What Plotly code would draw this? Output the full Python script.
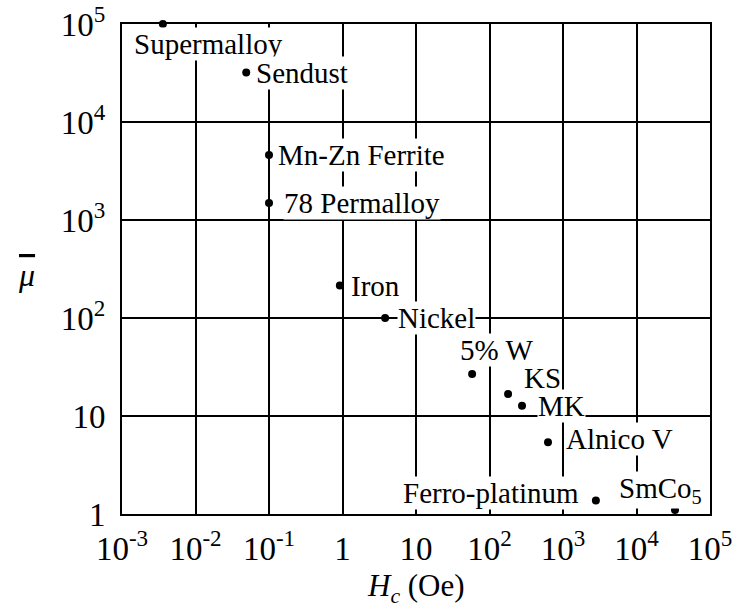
import math
import plotly.graph_objects as go

# Coercivity Hc (Oe) and average permeability of magnetic materials
materials = ["Supermalloy", "Sendust", "Mn-Zn Ferrite", "78 Permalloy", "Iron", "Nickel",
             "5% W", "KS", "MK", "Alnico V", "Ferro-platinum", "SmCo<sub>5</sub>"]
hc_oe = [0.0036, 0.049, 0.1, 0.1, 0.92, 3.8, 58, 179, 277, 625, 2800, 33400]
mu_avg = [100000, 32000, 4600, 1490, 214, 100, 26.8, 16.8, 12.7, 5.4, 1.37, 1.1]

x_tickvals = [1e-3, 1e-2, 1e-1, 1, 10, 1e2, 1e3, 1e4, 1e5]
x_ticktext = ["10<sup>-3</sup>", "10<sup>-2</sup>", "10<sup>-1</sup>", "1", "10",
              "10<sup>2</sup>", "10<sup>3</sup>", "10<sup>4</sup>", "10<sup>5</sup>"]
y_tickvals = [1, 10, 1e2, 1e3, 1e4, 1e5]
y_ticktext = ["1", "10", "10<sup>2</sup>", "10<sup>3</sup>", "10<sup>4</sup>", "10<sup>5</sup>"]

# label placement relative to each point: (xanchor, xshift, yshift)
label_place = [
    ("left", -30, -20),
    ("left", 9, 0),
    ("left", 8, 0),
    ("left", 14, 0),
    ("left", 10, 0),
    ("left", 12, 0),
    ("center", 24, 24),
    ("left", 15, 16),
    ("left", 15, 0),
    ("left", 17, 3),
    ("right", -16, 8),
    ("center", -15, 20),
]

SERIF = "Liberation Serif"

fig = go.Figure()
fig.add_trace(go.Scatter(
    x=hc_oe, y=mu_avg, mode="markers",
    marker=dict(color="black", size=8),
    cliponaxis=False,
    hoverinfo="skip", showlegend=False,
))

# log axes: annotation positions are given in log10 units
for name, xv, yv, (anc, dx, dy) in zip(materials, hc_oe, mu_avg, label_place):
    fig.add_annotation(
        x=math.log10(xv), y=math.log10(yv), xref="x", yref="y", text=name, showarrow=False,
        xanchor=anc, yanchor="middle", xshift=dx, yshift=dy,
        bgcolor="white", borderpad=0,
        font=dict(family=SERIF, size=29, color="black"),
    )

# axis titles
fig.add_annotation(
    x=-0.163, y=0.487, xref="paper", yref="paper", showarrow=False,
    xanchor="center", yanchor="middle",
    text="<span style='text-decoration:overline'><i>\u03bc</i></span>",
    font=dict(family=SERIF, size=32, color="black"),
)
fig.add_annotation(
    x=0.5, y=-0.151, xref="paper", yref="paper", showarrow=False,
    xanchor="center", yanchor="middle",
    text="<i>H</i><sub><i>c</i></sub> (Oe)", font=dict(family=SERIF, size=31, color="black"),
)

axis_common = dict(
    type="log", showgrid=True, gridcolor="black", gridwidth=2,
    showline=True, linecolor="black", linewidth=2, mirror=True,
    ticks="", zeroline=False,
    tickfont=dict(family=SERIF, size=33, color="black"),
)
fig.update_xaxes(range=[-3, 5], tickvals=x_tickvals, ticktext=x_ticktext,
                 ticklabelstandoff=4, **axis_common)
fig.update_yaxes(range=[0, 5], tickvals=y_tickvals, ticktext=y_ticktext,
                 ticklabelstandoff=8, **axis_common)

fig.update_layout(
    width=736, height=613,
    margin=dict(l=122, r=26, t=24, b=99, autoexpand=False),
    paper_bgcolor="white", plot_bgcolor="white",
    font=dict(family=SERIF, color="black"),
)

fig.write_html("out.html")
